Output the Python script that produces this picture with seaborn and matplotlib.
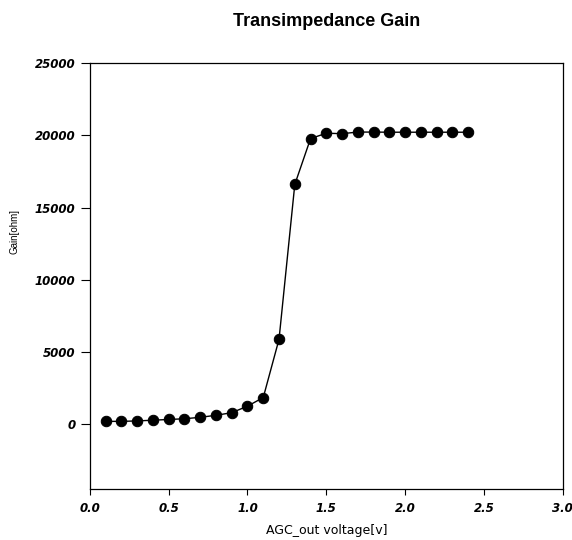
import matplotlib
matplotlib.use("Agg")
import matplotlib.pyplot as plt
import seaborn as sns
import pandas as pd

voltage = [0.1, 0.2, 0.3, 0.4, 0.5, 0.6, 0.7, 0.8, 0.9, 1.0, 1.1, 1.2,
           1.3, 1.4, 1.5, 1.6, 1.7, 1.8, 1.9, 2.0, 2.1, 2.2, 2.3, 2.4]
gain = [200, 200, 230, 280, 330, 380, 480, 620, 800, 1250, 1850, 5880,
        16600, 19780, 20150, 20120, 20230, 20230, 20220, 20220, 20220, 20220, 20220, 20220]
x_ticks = [0.0, 0.5, 1.0, 1.5, 2.0, 2.5, 3.0]
y_ticks = [0, 5000, 10000, 15000, 20000, 25000]

sns.set_theme(style="white")
plt.rcParams['font.family'] = ['Liberation Sans', 'DejaVu Sans']
plt.rcParams['text.color'] = 'black'
plt.rcParams['axes.labelcolor'] = 'black'
plt.rcParams['xtick.color'] = 'black'
plt.rcParams['ytick.color'] = 'black'

df = pd.DataFrame({"voltage": voltage, "gain": gain})

fig = plt.figure(figsize=(5.72, 5.40), dpi=100)
ax = fig.add_axes([0.157, 0.094, 0.827, 0.789])

sns.lineplot(data=df, x="voltage", y="gain", ax=ax, color="black", linewidth=1.0,
             marker="o", markersize=7.5, markeredgecolor="black", markerfacecolor="black")

ax.set_xlim(0, 3.0)
ax.set_ylim(-4500, 25000)
ax.set_xticks(x_ticks)
ax.set_xticklabels([f"{t:.1f}" for t in x_ticks])
ax.set_yticks(y_ticks)
ax.set_yticklabels([str(t) for t in y_ticks])

for lab in ax.get_xticklabels() + ax.get_yticklabels():
    lab.set_family(['DejaVu Sans'])
    lab.set_fontstyle("oblique")
    lab.set_fontweight("bold")
    lab.set_fontsize(8.5)
    lab.set_color("black")

ax.tick_params(axis="x", direction="out", length=4.5, width=0.8, color="black",
               bottom=True, pad=5)
ax.tick_params(axis="y", direction="out", length=6.5, width=0.8, color="black",
               left=True, pad=4)
for sp in ax.spines.values():
    sp.set_color("black")
    sp.set_linewidth(0.9)

ax.set_xlabel("AGC_out voltage[v]", fontsize=9, family=['DejaVu Sans'], labelpad=6)
ax.set_ylabel("Gain[ohm]", fontsize=7)
ax.yaxis.set_label_coords(-0.148, 0.606)
ax.set_title("Transimpedance Gain", fontsize=13, fontweight="bold", pad=27)
ax.grid(False)

fig.savefig("out.png", dpi=100)
